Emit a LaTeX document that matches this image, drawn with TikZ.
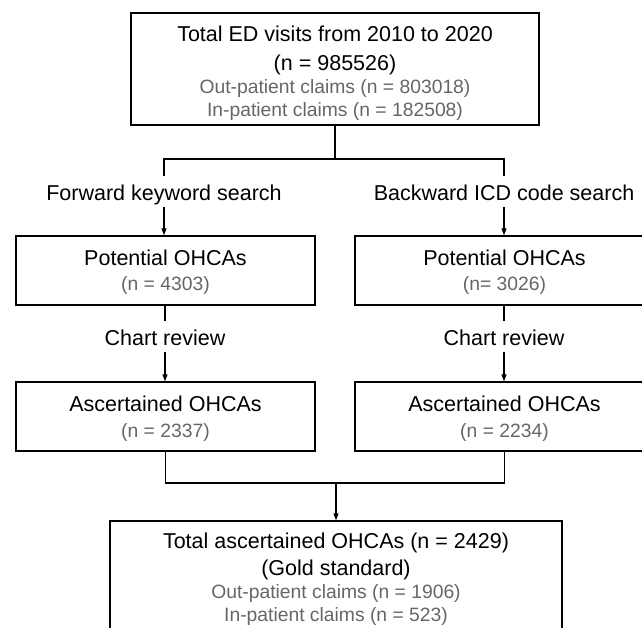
\documentclass[tikz,border=0pt]{standalone}
\usepackage{fontspec}
\setmainfont{Liberation Sans}
\usepackage{xcolor}
\usetikzlibrary{
    arrows.meta,
    positioning
}
\definecolor{subgray}{gray}{0.40}
\newcommand{\subtext}[1]{{\fontsize{19.3}{22}\selectfont\color{subgray}#1}}
\newcommand{\padtop}[1]{\rule{0pt}{#1}}
\tikzset{flowbox/.style={draw=black, line width=1.4pt, align=center, inner sep=0pt, font=\fontsize{21.5}{27}\selectfont}}
\tikzset{steplabel/.style={anchor=base, inner sep=0pt, text height=24.5pt, text depth=6.5pt, font=\fontsize{21.5}{26}\selectfont}}
\tikzset{link/.style={line width=1.1pt}}
\tikzset{linkarrow/.style={link, -{Triangle[length=7pt,width=5pt]}}}

\begin{document}
\begin{tikzpicture}[x=1pt, y=-1pt]
    \useasboundingbox (0,0) rectangle (642,627);
    \clip (0,0) rectangle (642,627);
    % top box
    \node[flowbox, minimum width=408pt, minimum height=112pt] (edvisits) at (335,69) {\padtop{24pt}Total ED visits from 2010 to 2020\\[2pt] (n = 985526)\\[-4pt] \subtext{Out-patient claims (n = 803018)}\\[-4.5pt] \subtext{In-patient claims (n = 182508)}};
    % search labels
    \node[steplabel] (fwdlabel) at (164,200.7) {Forward keyword search};
    \node[steplabel] (bwdlabel) at (504,200.7) {Backward ICD code search};
    % potential
    \node[flowbox, minimum width=299pt, minimum height=69pt] (fwdpot) at (165.5,270.5) {\padtop{19.5pt}Potential OHCAs\\[-2pt] \subtext{(n = 4303)}};
    \node[flowbox, minimum width=299pt, minimum height=69pt] (bwdpot) at (504.5,270.5) {\padtop{19.5pt}Potential OHCAs\\[-2pt] \subtext{(n= 3026)}};
    \node[steplabel] (fwdchart) at (165,345.7) {Chart review};
    \node[steplabel] (bwdchart) at (504,345.7) {Chart review};
    % ascertained
    \node[flowbox, minimum width=299pt, minimum height=69pt] (fwdasc) at (165.5,416.5) {\padtop{19.5pt}Ascertained OHCAs\\[-1.5pt] \subtext{(n = 2337)}};
    \node[flowbox, minimum width=299pt, minimum height=69pt] (bwdasc) at (504.5,416.5) {\padtop{19.5pt}Ascertained OHCAs\\[-1.5pt] \subtext{(n = 2234)}};
    % gold standard
    \node[flowbox, minimum width=452pt, minimum height=116pt] (goldstd) at (336,579) {Total ascertained OHCAs (n = 2429)\\ (Gold standard)\\[-4pt] \subtext{Out-patient claims (n = 1906)}\\[-4.5pt] \subtext{In-patient claims (n = 523)}};
    \coordinate (split) at (335,159);
    \coordinate (merge) at (336,483);
    \draw[link] (edvisits.south) -- (split);
    \draw[link] (fwdlabel.north) |- (split) -| (bwdlabel.north);
    \draw[linkarrow] (fwdlabel.south) -- (fwdlabel.south |- fwdpot.north);
    \draw[linkarrow] (bwdlabel.south) -- (bwdlabel.south |- bwdpot.north);
    \draw[link] (fwdpot.south -| fwdchart) -- (fwdchart.north);
    \draw[link] (bwdpot.south -| bwdchart) -- (bwdchart.north);
    \draw[linkarrow] (fwdchart.south) -- (fwdchart.south |- fwdasc.north);
    \draw[linkarrow] (bwdchart.south) -- (bwdchart.south |- bwdasc.north);
    \draw[link] (fwdasc.south) |- (merge) -| (bwdasc.south);
    \draw[linkarrow] (merge) -- (goldstd.north);
\end{tikzpicture}
\end{document}
